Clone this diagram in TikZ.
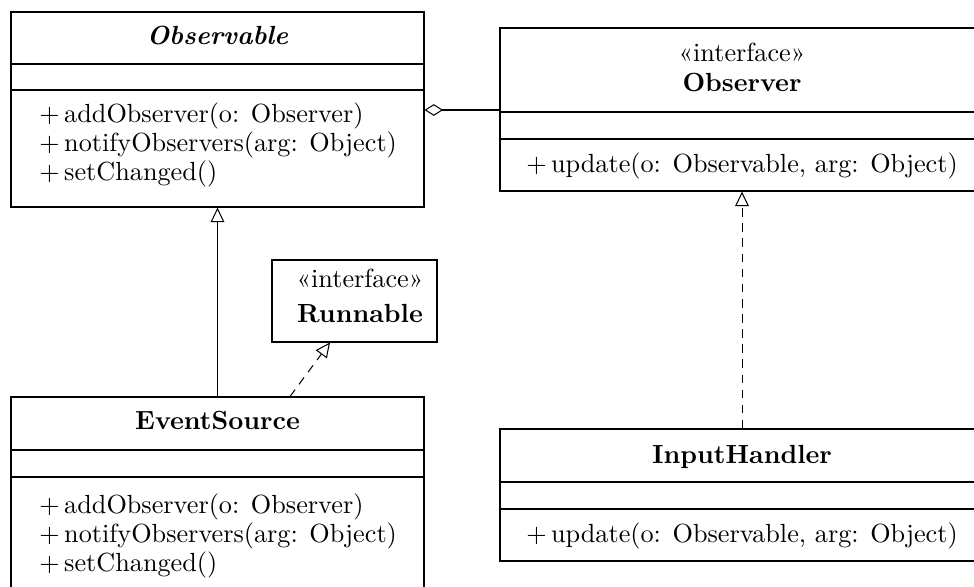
\documentclass[tikz,border=0pt]{standalone}
\usepackage{fontspec}
\usetikzlibrary{arrows.meta,fit}
\newcommand\umlsize{\fontsize{10.75}{13}\selectfont}
\begin{document}
\begin{tikzpicture}[x=0.41pt,y=-0.41pt,
  box/.style={draw, inner sep=0pt, line width=0.42pt},
  divider/.style={draw, line width=0.42pt},
  member/.style={anchor=base west, inner sep=0pt, font=\umlsize},
  cmember/.style={anchor=base, inner sep=0pt, font=\umlsize},
  title/.style={anchor=base, inner sep=0pt, font=\umlsize\bfseries},
  stereo/.style={anchor=base, inner sep=0pt, font=\umlsize},
  inherit/.style={line width=0.42pt, -{Triangle[open,length=6pt,width=5.6pt]}},
  realize/.style={line width=0.42pt, dash pattern=on 3.5pt off 2.7pt, -{Triangle[open,length=6pt,width=5.6pt]}},
  aggreg/.style={line width=0.42pt, -{Diamond[open,length=7.6pt,width=4.8pt]}}
]
\useasboundingbox (0,0) rectangle (974,587);
\clip (0,0) rectangle (974,587);

% Observable
\node[box, fit={(11,12)(424,207)}] (observable) {};
\draw[divider] (11,64) -- (424,64);
\draw[divider] (11,90) -- (424,90);
\node[title, font=\umlsize\bfseries\itshape] (observableT) at (217.5,45) {Observable};
\node[member] (obsM1) at (39,123) {+\,addObserver(o: Observer)};
\node[member] (obsM2) at (39,152) {+\,notifyObservers(arg: Object)};
\node[member] (obsM3) at (39,181) {+\,setChanged()};

% Observer
\node[box, fit={(500,28)(984,191)}] (observer) {};
\draw[divider] (500,112) -- (984,112);
\draw[divider] (500,139) -- (984,139);
\node[stereo] (observerS) at (742,62) {«interface»};
\node[title] (observerT) at (742,92) {Observer};
\node[cmember] (observerM) at (742,173) {+\,update(o: Observable, arg: Object)};

% Runnable
\node[box, fit={(272,260)(437,342)}] (runnable) {};
\node[stereo] (runnableS) at (360,288) {«interface»};
\node[title] (runnableT) at (360,323) {Runnable};

% EventSource
\node[box, fit={(11,397)(424,600)}] (eventsource) {};
\draw[divider] (11,450) -- (424,450);
\draw[divider] (11,477) -- (424,477);
\node[title] (eventsourceT) at (217.5,430) {EventSource};
\node[member] (esM1) at (39,513) {+\,addObserver(o: Observer)};
\node[member] (esM2) at (39,542) {+\,notifyObservers(arg: Object)};
\node[member] (esM3) at (39,571) {+\,setChanged()};

% InputHandler
\node[box, fit={(500,429)(984,561)}] (inputhandler) {};
\draw[divider] (500,482) -- (984,482);
\draw[divider] (500,509) -- (984,509);
\node[title] (inputhandlerT) at (742,463) {InputHandler};
\node[cmember] (inputhandlerM) at (742,542) {+\,update(o: Observable, arg: Object)};

% Connectors
\draw[aggreg] (observer.west |- 0,110) -- (observable.east |- 0,110);
\draw[inherit] (eventsource.north) -- (observable.south);
\draw[realize] (eventsource.north -| 290,0) -- (runnable.south -| 330,0);
\draw[realize] (inputhandler.north) -- (observer.south);
\end{tikzpicture}
\end{document}
